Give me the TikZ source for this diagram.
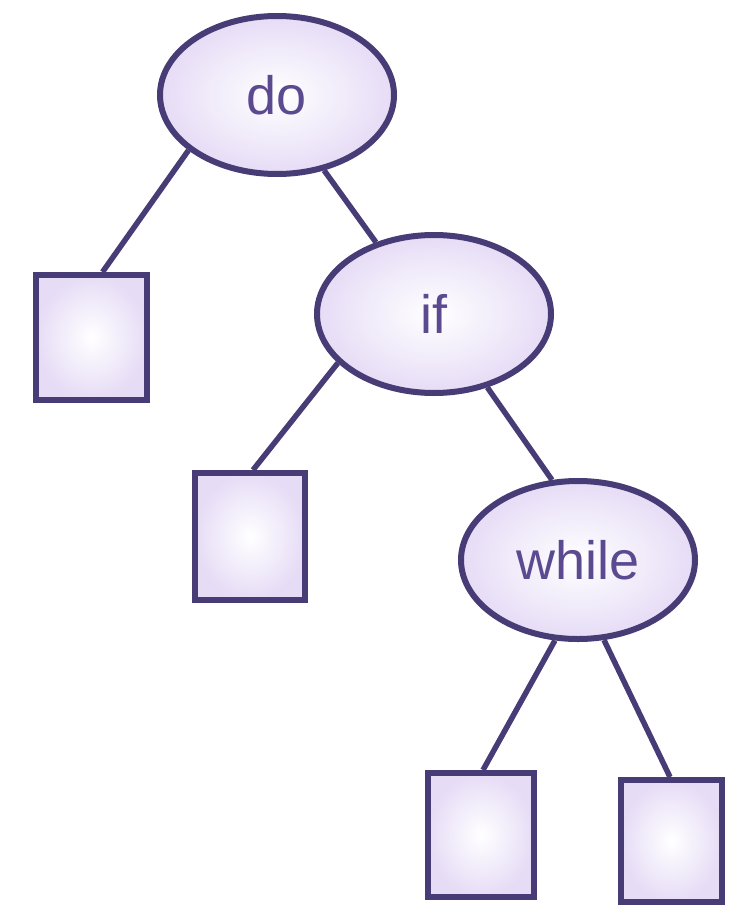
\documentclass[tikz,border=0pt]{standalone}
\usepackage{fontspec}
\newfontfamily\lab{Liberation Sans}
\usetikzlibrary{shapes.geometric}
\definecolor{ink}{RGB}{72,60,118}
\definecolor{lav}{RGB}{230,220,246}
\definecolor{txt}{RGB}{92,74,145}
\tikzset{
  kw/.style={ellipse, draw=ink, line width=6pt, inner sep=0pt,
    minimum width=234pt, minimum height=158pt,
    inner color=white, outer color=lav,
    font=\lab\fontsize{54}{54}\selectfont, text=txt},
  leaf/.style={rectangle, draw=ink, line width=6pt, inner sep=0pt,
    inner color=white, outer color=lav},
  edge/.style={draw=ink, line width=5.5pt}
}
\begin{document}
\begin{tikzpicture}[x=1pt,y=-1pt]
\useasboundingbox[fill=white] (0,0) rectangle (728,915);
\node[kw] (do) at (277,95) {do};
\node[kw] (if) at (434,314) {if};
\node[kw] (while) at (578,560) {while};
\node[leaf, minimum width=111pt, minimum height=125pt] (sq1) at (91.5,337.5) {};
\node[leaf, minimum width=110pt, minimum height=127pt] (sq2) at (250,536.5) {};
\node[leaf, minimum width=106pt, minimum height=124pt] (sq3) at (481,835) {};
\node[leaf, minimum width=101pt, minimum height=122pt] (sq4) at (671.5,841) {};
\draw[edge] (do.212) -- ([xshift=11pt]sq1.north);
\draw[edge] (do.302) -- (if.129);
\draw[edge] (if.207) -- ([xshift=3pt]sq2.north);
\draw[edge] (if.306) -- (while.108);
\draw[edge] (while.254) -- ([xshift=2pt]sq3.north);
\draw[edge] (while.288) -- ([xshift=-1.5pt]sq4.north);
\end{tikzpicture}
\end{document}
